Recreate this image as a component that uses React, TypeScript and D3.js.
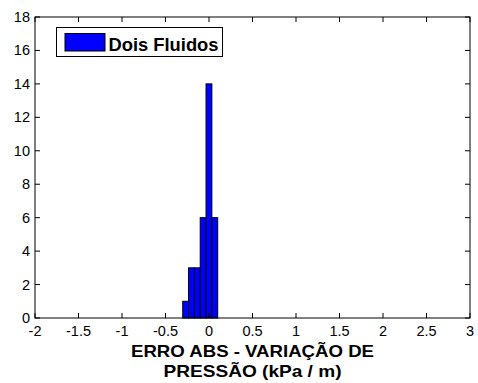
import React from "react";
import * as d3 from "d3";

const binLeft = [-0.302, -0.235, -0.168, -0.101, -0.034, 0.033];
const binWidth = 0.067;
const counts = [1, 3, 3, 6, 14, 6];
const xTicks = [-2, -1.5, -1, -0.5, 0, 0.5, 1, 1.5, 2, 2.5, 3];
const yTicks = [0, 2, 4, 6, 8, 10, 12, 14, 16, 18];
const seriesName = "Dois Fluidos";
const xLabelLines = ["ERRO ABS - VARIAÇÃO DE", "PRESSÃO (kPa / m)"];

const W = 478, H = 383;
const L = 35, R = 470, T = 17, B = 318;

export default function App() {
  const x = d3.scaleLinear().domain([-2, 3]).range([L, R]);
  const y = d3.scaleLinear().domain([0, 18]).range([B, T]);
  const font = "'Liberation Sans', Arial, sans-serif";
  const tk = 5;
  const labelLens = [243, 178];
  return (
    <svg width={W} height={H} style={{ position: "absolute", left: 0, top: 0, background: "#fff" }}>
      <rect x={0} y={0} width={W} height={H} fill="#fff" />
      {binLeft.map((b, i) => (
        <rect key={i} x={x(b)} y={y(counts[i])} width={x(b + binWidth) - x(b)} height={y(0) - y(counts[i])}
          fill="#0000ff" stroke="#000" strokeWidth={1} />
      ))}
      {xTicks.map((t) => (
        <g key={"x" + t}>
          <line x1={x(t)} x2={x(t)} y1={B} y2={B - tk} stroke="#000" />
          <line x1={x(t)} x2={x(t)} y1={T} y2={T + tk} stroke="#000" />
          <text x={x(t)} y={336} textAnchor="middle" fontFamily={font} fontSize={14.5} fill="#000">{t}</text>
        </g>
      ))}
      {yTicks.map((t) => (
        <g key={"y" + t}>
          <line x1={L} x2={L + tk} y1={y(t)} y2={y(t)} stroke="#000" />
          <line x1={R} x2={R - tk} y1={y(t)} y2={y(t)} stroke="#000" />
          <text x={30} y={y(t) + 5} textAnchor="end" fontFamily={font} fontSize={14.5} fill="#000">{t}</text>
        </g>
      ))}
      <rect x={L} y={T} width={R - L} height={B - T} fill="none" stroke="#000" strokeWidth={1} />
      <rect x={56.5} y={27.5} width={166} height={29} fill="#fff" stroke="#000" />
      <rect x={65} y={33.5} width={40} height={17.5} fill="#0000ff" stroke="#000" />
      <text x={108.5} y={50.5} fontFamily={font} fontSize={18} fontWeight="bold" fill="#000"
        textLength={110} lengthAdjust="spacingAndGlyphs">{seriesName}</text>
      {xLabelLines.map((s, i) => (
        <text key={i} x={(L + R) / 2} y={356.5 + i * 20} textAnchor="middle" fontFamily={font} fontSize={16.5} fontWeight="bold" fill="#000"
          textLength={labelLens[i]} lengthAdjust="spacingAndGlyphs">{s}</text>
      ))}
    </svg>
  );
}
